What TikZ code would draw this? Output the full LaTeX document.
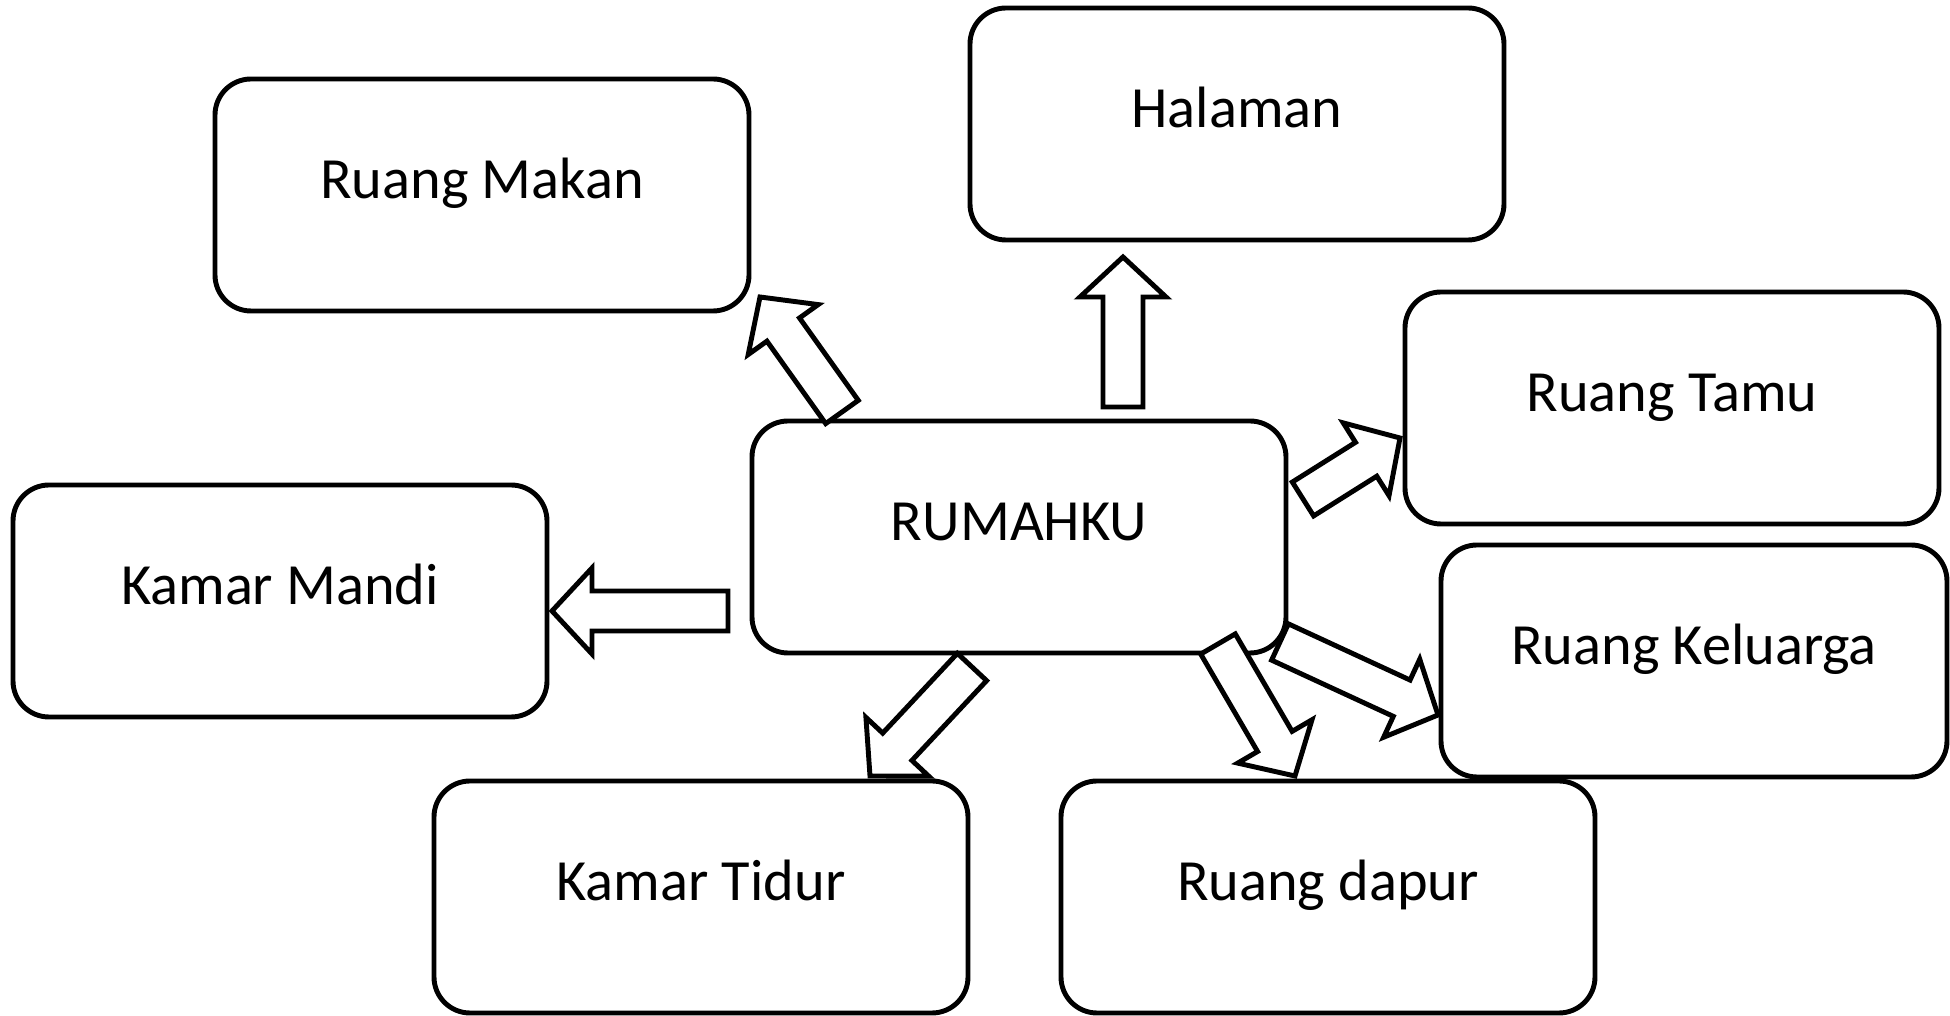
\documentclass[tikz,border=0pt]{standalone}
\usepackage{fontspec}
\setmainfont{Carlito}
\usepackage{tikz}
\usetikzlibrary{calc}

% block arrow from tail #1 to tip #2
\newcommand{\blokpanah}[2]{%
  \coordinate (hb) at ($(#2)!0.40cm!(#1)$);
  \draw[panah] ($(#1)!0.20cm!90:(#2)$) -- ($(hb)!0.20cm!-90:(#1)$) -- ($(hb)!0.43cm!-90:(#1)$)
    -- (#2) -- ($(hb)!0.43cm!90:(#1)$) -- ($(hb)!0.20cm!90:(#1)$) -- ($(#1)!0.20cm!-90:(#2)$) -- cycle;
}

\begin{document}
\begin{tikzpicture}[
  kotak/.style={draw, line width=1.4pt, rounded corners=0.36cm, fill=white,
    minimum width=5.34cm, minimum height=2.32cm, text height=0.54cm, text depth=0.46cm,
    font=\fontsize{16.6}{19}\selectfont},
  panah/.style={draw, fill=white, line width=1.4pt, line join=miter}
]
  \useasboundingbox (0,0) rectangle (19.5,10.16);

  % Center box
  \node[kotak] (rumah) at (10.19, 4.79) {RUMAHKU};

  % Rooms around it
  \node[kotak] (makan) at (4.82, 8.21) {Ruang Makan};
  \node[kotak] (halaman) at (12.37, 8.92) {Halaman};
  \node[kotak] (tamu) at (16.72, 6.08) {Ruang Tamu};
  \node[kotak] (mandi) at (2.80, 4.15) {Kamar Mandi};
  \node[kotak, minimum width=5.06cm] (keluarga) at (16.94, 3.55) {Ruang Keluarga};
  \node[kotak] (tidur) at (7.01, 1.19) {Kamar Tidur};
  \node[kotak] (dapur) at (13.28, 1.19) {Ruang dapur};

  % Arrow ends
  \coordinate (ekorMakan) at (8.42, 6.04);    \coordinate (ujungMakan) at (7.60, 7.19);
  \coordinate (ekorHalaman) at (11.23, 6.09); \coordinate (ujungHalaman) at (11.23, 7.59);
  \coordinate (ekorTamu) at (13.03, 5.17);    \coordinate (ujungTamu) at (14.00, 5.78);
  \coordinate (ekorMandi) at (7.28, 4.05);    \coordinate (ujungMandi) at (5.52, 4.05);
  \coordinate (ekorTidur) at (9.72, 3.49);    \coordinate (ujungTidur) at (8.70, 2.40);
  \coordinate (ekorDapur) at (12.18, 3.72);   \coordinate (ujungDapur) at (12.95, 2.40);
  \coordinate (ekorKeluarga) at (12.80, 3.74); \coordinate (ujungKeluarga) at (14.38, 3.01);

  % Block arrows
  \blokpanah{ekorMakan}{ujungMakan}
  \blokpanah{ekorHalaman}{ujungHalaman}
  \blokpanah{ekorTamu}{ujungTamu}
  \blokpanah{ekorMandi}{ujungMandi}
  \blokpanah{ekorTidur}{ujungTidur}
  \blokpanah{ekorDapur}{ujungDapur}
  \blokpanah{ekorKeluarga}{ujungKeluarga}
\end{tikzpicture}
\end{document}
